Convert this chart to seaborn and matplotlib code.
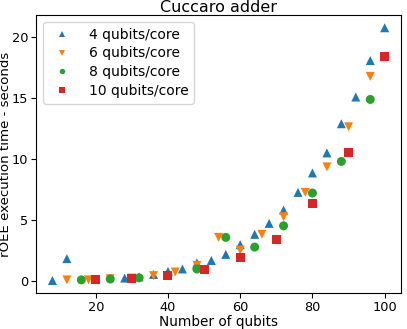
import seaborn as sns
import matplotlib.pyplot as plt
import pandas as pd

# values
q4_x = [8, 12, 28, 32, 36, 40, 44, 48, 52, 56, 60, 64, 68, 72, 76, 80, 84, 88, 92, 96, 100]
q4_y = [0.0, 1.8, 0.2, 0.3, 0.5, 0.75, 0.95, 1.45, 1.65, 2.15, 2.95, 3.8, 4.7, 5.8, 7.25, 8.85, 10.5, 12.9, 15.1, 18.1, 20.8]

q6_x = [12, 18, 24, 30, 36, 42, 48, 54, 60, 66, 72, 78, 84, 90, 96]
q6_y = [0.05, 0.05, 0.15, 0.2, 0.4, 0.7, 1.25, 3.55, 2.5, 3.8, 5.25, 7.25, 9.35, 12.65, 16.8]

q8_x = [16, 24, 32, 40, 48, 56, 64, 72, 80, 88, 96]
q8_y = [0.05, 0.12, 0.22, 0.45, 0.95, 3.55, 2.75, 4.5, 7.2, 9.8, 14.9]

q10_x = [20, 30, 40, 50, 60, 70, 80, 90, 100]
q10_y = [0.05, 0.2, 0.45, 0.9, 1.9, 3.4, 6.35, 10.5, 18.4]

labels = ["4 qubits/core", "6 qubits/core", "8 qubits/core", "10 qubits/core"]
markers = {"4 qubits/core": "^", "6 qubits/core": "v", "8 qubits/core": "o", "10 qubits/core": "s"}
colors = {"4 qubits/core": "tab:blue", "6 qubits/core": "tab:orange",
          "8 qubits/core": "tab:green", "10 qubits/core": "tab:red"}

series = [(q4_x, q4_y), (q6_x, q6_y), (q8_x, q8_y), (q10_x, q10_y)]
df = pd.concat(
    [pd.DataFrame({"qubits": xs, "time": ys, "config": lab}) for lab, (xs, ys) in zip(labels, series)],
    ignore_index=True,
)

fig, ax = plt.subplots(figsize=(4.07, 3.29), dpi=100)
fig.subplots_adjust(left=0.088, right=0.986, bottom=0.109, top=0.954)

sns.scatterplot(
    data=df, x="qubits", y="time", hue="config", style="config",
    hue_order=labels, style_order=labels, palette=colors, markers=markers,
    s=42, linewidth=0, ax=ax,
)

ax.set_title("Cuccaro adder", fontsize=11.5, pad=2)
ax.set_xlabel("Number of qubits", fontsize=9.8, labelpad=1)
ax.set_ylabel("rOEE execution time - seconds", fontsize=9.6)
ax.yaxis.set_label_coords(-0.066, 0.5)
ax.set_yticks([0, 5, 10, 15, 20])
ax.tick_params(labelsize=9.3, pad=2)
ax.legend(title=None, fontsize=10, loc="upper left", markerscale=0.6,
          labelspacing=0.35, handletextpad=0.9)

plt.savefig("out.png", dpi=100)
